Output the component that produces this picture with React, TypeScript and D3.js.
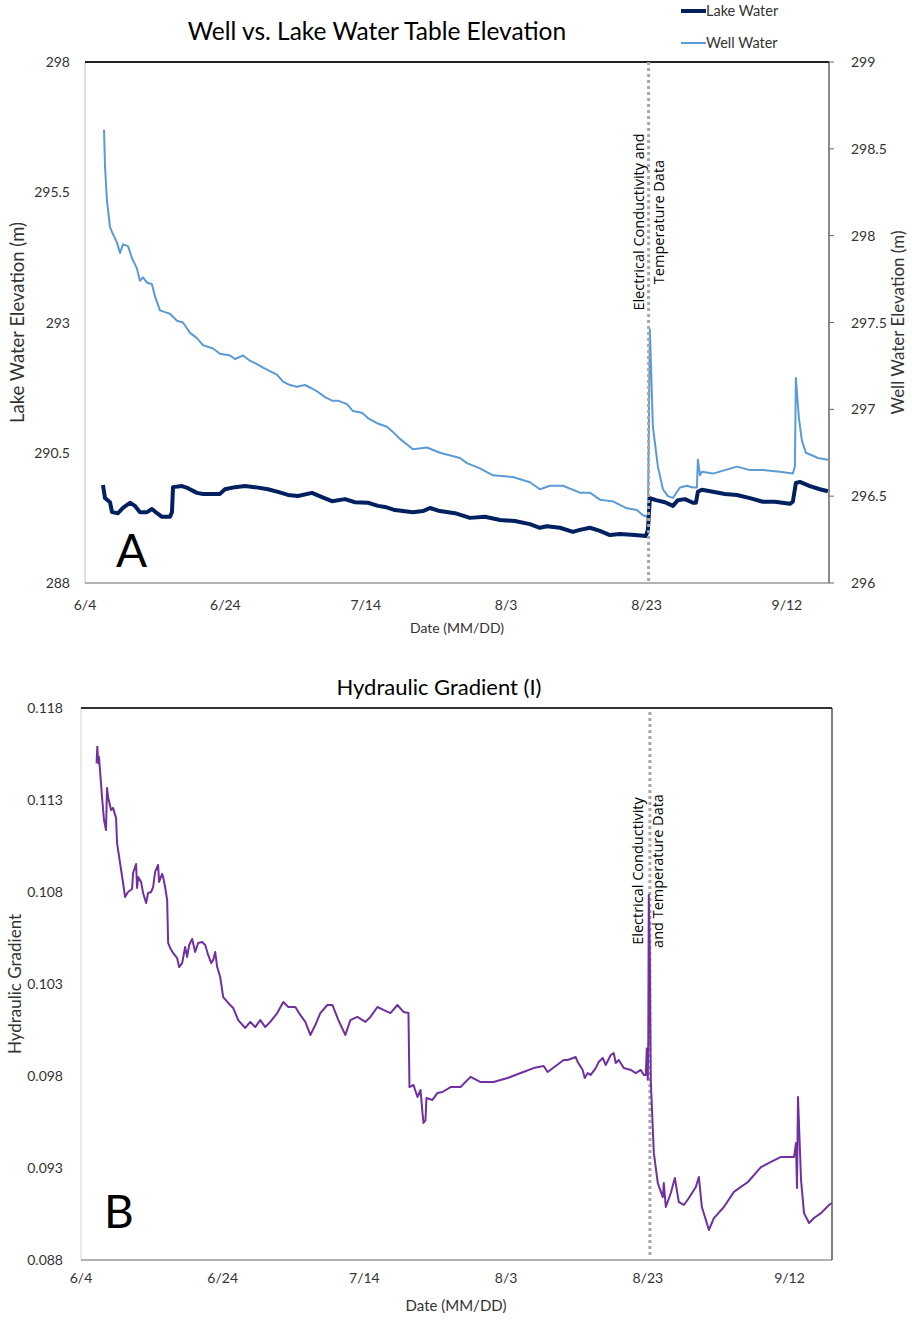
import React from 'react';
import * as d3 from 'd3';

// ---------- data ----------
const BASE = new Date(2019, 5, 4); // 6/4
const END_DAY = 106;
const xTickDays = [0, 20, 40, 60, 80, 100];
const xTickLabels = ['6/4', '6/24', '7/14', '8/3', '8/23', '9/12'];
const lakeTicks = [288, 290.5, 293, 295.5, 298];
const wellTicks = [296, 296.5, 297, 297.5, 298, 298.5, 299];
const gradTicks = [0.088, 0.093, 0.098, 0.103, 0.108, 0.113, 0.118];
const markerDay = 80.3;

// [day since 6/4, elevation m]
const lakeWater: [number, number][] = [
  [2.56, 289.88], [2.85, 289.63], [3.56, 289.55], [3.85, 289.36], [4.7, 289.34], [5.41, 289.44],
  [6.41, 289.54], [7.12, 289.48], [7.83, 289.36], [8.83, 289.36], [9.54, 289.42], [10.26, 289.34],
  [10.97, 289.27], [12.11, 289.27], [12.39, 289.36], [12.54, 289.84], [13.82, 289.86], [14.67, 289.82],
  [15.95, 289.73], [16.81, 289.71], [18.09, 289.71], [19.23, 289.71], [19.94, 289.8], [21.37, 289.84],
  [22.79, 289.86], [24.22, 289.84], [26.07, 289.8], [27.49, 289.75], [28.92, 289.69], [30.34, 289.67],
  [32.34, 289.73], [33.76, 289.65], [35.19, 289.57], [37.04, 289.61], [38.46, 289.55], [40.31, 289.54],
  [41.74, 289.48], [42.74, 289.46], [44.16, 289.4], [46.72, 289.36], [48.15, 289.38], [49.15, 289.44],
  [50.57, 289.38], [52.71, 289.34], [54.84, 289.25], [56.98, 289.27], [59.12, 289.21], [61.25, 289.19],
  [63.39, 289.13], [64.81, 289.06], [65.81, 289.09], [67.66, 289.06], [69.52, 288.98], [70.51, 289.02],
  [71.94, 289.06], [73.36, 289.0], [74.79, 288.92], [76.21, 288.94], [78.35, 288.92], [79.91, 288.9],
  [80.2, 289.02], [80.48, 289.63], [81.34, 289.59], [82.62, 289.55], [83.76, 289.48], [84.47, 289.59],
  [85.47, 289.61], [86.61, 289.54], [87.04, 289.54], [87.32, 289.75], [87.89, 289.79], [89.46, 289.75],
  [91.17, 289.71], [92.88, 289.69], [94.73, 289.63], [96.58, 289.56], [98.29, 289.56], [100.43, 289.52],
  [100.85, 289.56], [101.28, 289.92], [101.85, 289.94], [103.28, 289.86], [104.7, 289.8], [105.84, 289.76],
];

const wellWater: [number, number][] = [
  [2.71, 298.61], [2.85, 298.4], [3.13, 298.2], [3.56, 298.05], [3.85, 298.02], [4.56, 297.96],
  [4.99, 297.9], [5.41, 297.95], [6.13, 297.94], [6.7, 297.87], [7.41, 297.81], [7.83, 297.74],
  [8.26, 297.76], [8.83, 297.73], [9.54, 297.72], [9.97, 297.65], [10.68, 297.57], [11.4, 297.56],
  [12.11, 297.55], [13.11, 297.51], [13.96, 297.5], [14.96, 297.44], [15.95, 297.41], [16.81, 297.37],
  [18.23, 297.35], [19.23, 297.32], [20.66, 297.31], [21.37, 297.29], [22.51, 297.31], [23.5, 297.28],
  [24.5, 297.26], [25.36, 297.24], [26.35, 297.22], [27.35, 297.2], [28.21, 297.16], [29.2, 297.14],
  [30.2, 297.13], [31.34, 297.14], [32.34, 297.12], [33.19, 297.1], [34.19, 297.07], [35.19, 297.05],
  [36.04, 297.05], [37.32, 297.03], [38.18, 296.99], [39.46, 296.98], [40.31, 296.95], [41.6, 296.92],
  [43.02, 296.9], [43.87, 296.87], [44.87, 296.83], [46.72, 296.77], [48.72, 296.78], [50.57, 296.75],
  [53.42, 296.72], [54.42, 296.69], [56.27, 296.66], [58.12, 296.62], [60.97, 296.61], [63.39, 296.58],
  [64.81, 296.54], [66.24, 296.56], [68.09, 296.56], [70.51, 296.52], [71.94, 296.52], [73.36, 296.48],
  [75.21, 296.47], [77.21, 296.43], [78.63, 296.42], [79.49, 296.39], [80.2, 296.38], [80.48, 297.46],
  [80.91, 296.9], [81.62, 296.67], [82.34, 296.54], [83.05, 296.5], [83.76, 296.49], [84.76, 296.55],
  [85.75, 296.56], [86.61, 296.55], [87.18, 296.55], [87.32, 296.71], [87.61, 296.62], [87.89, 296.64],
  [89.46, 296.63], [91.17, 296.65], [92.88, 296.67], [94.73, 296.65], [96.58, 296.65], [99.0, 296.64],
  [100.85, 296.63], [101.14, 296.67], [101.28, 297.18], [101.71, 296.95], [102.14, 296.82], [102.71, 296.75],
  [103.28, 296.74], [104.42, 296.72], [105.84, 296.71],
];

// [day since 6/4, hydraulic gradient]
const gradient: [number, number][] = [
  [2.2, 0.115], [2.3, 0.1159], [2.45, 0.115], [2.54, 0.11534], [2.97, 0.11316], [3.25, 0.11191],
  [3.53, 0.11137], [3.67, 0.11365], [3.82, 0.11316], [4.24, 0.11246], [4.52, 0.11257], [4.95, 0.11202],
  [5.09, 0.11066], [5.51, 0.10958], [5.94, 0.10849], [6.22, 0.10773], [6.64, 0.108], [7.21, 0.10816],
  [7.35, 0.10903], [7.77, 0.10952], [7.92, 0.10822], [8.06, 0.10882], [8.48, 0.10855], [8.76, 0.10795],
  [9.19, 0.1074], [9.47, 0.10795], [9.89, 0.108], [10.18, 0.10827], [10.46, 0.10909], [10.88, 0.10947],
  [11.02, 0.10855], [11.45, 0.10898], [11.59, 0.10882], [11.87, 0.10827], [12.16, 0.10757], [12.3, 0.10523],
  [12.58, 0.10496], [13.0, 0.10469], [13.57, 0.10441], [13.85, 0.10392], [14.28, 0.10414], [14.7, 0.10501],
  [14.98, 0.10447], [15.27, 0.10512], [15.69, 0.10545], [16.11, 0.10474], [16.54, 0.10523], [17.1, 0.10528],
  [17.53, 0.10512], [17.95, 0.10458], [18.37, 0.10414], [18.66, 0.10431], [18.94, 0.10474], [19.22, 0.10392],
  [19.65, 0.10338], [20.07, 0.10229], [20.78, 0.10197], [21.48, 0.1017], [22.19, 0.10104], [23.18, 0.10061],
  [23.89, 0.10094], [24.59, 0.10066], [25.3, 0.10104], [26.01, 0.10066], [26.71, 0.10094], [27.7, 0.10142],
  [28.55, 0.10202], [29.26, 0.10175], [30.25, 0.10175], [30.95, 0.10132], [31.66, 0.10094], [32.37, 0.10023],
  [33.07, 0.10077], [33.78, 0.10142], [34.77, 0.10186], [35.48, 0.10186], [36.33, 0.10104], [37.31, 0.10023],
  [38.02, 0.10104], [39.01, 0.10121], [40.14, 0.10094], [40.85, 0.10121], [41.84, 0.10175], [42.69, 0.10159],
  [43.67, 0.10142], [44.66, 0.10186], [45.51, 0.10148], [46.22, 0.10142], [46.36, 0.0974], [46.93, 0.09751],
  [47.49, 0.09686], [47.92, 0.09724], [48.2, 0.096], [48.34, 0.09545], [48.62, 0.0956], [48.76, 0.0968],
  [49.61, 0.0967], [50.32, 0.09708], [51.02, 0.09713], [52.16, 0.0974], [53.57, 0.0974], [54.98, 0.09795],
  [56.4, 0.09767], [58.23, 0.09767], [60.21, 0.09789], [62.05, 0.09816], [63.89, 0.09843], [65.3, 0.09854],
  [65.86, 0.09822], [68.13, 0.09887], [68.69, 0.09887], [69.82, 0.09903], [70.11, 0.09876], [70.81, 0.09833],
  [71.1, 0.09789], [71.52, 0.09816], [71.94, 0.09806], [72.65, 0.09843], [73.07, 0.09876], [73.64, 0.09898],
  [74.06, 0.0986], [74.77, 0.09914], [75.19, 0.09925], [75.48, 0.09871], [75.9, 0.09887], [76.61, 0.09843],
  [77.6, 0.09833], [78.3, 0.09816], [79.01, 0.09833], [79.43, 0.09806], [79.72, 0.09806], [79.86, 0.0995],
  [80.0, 0.0978], [80.07, 0.1], [80.14, 0.10784], [80.28, 0.105],
  [80.42, 0.09778], [80.85, 0.09382], [81.41, 0.09218], [82.12, 0.09142], [82.26, 0.09218], [82.54, 0.09088],
  [83.25, 0.09164], [83.82, 0.09246], [84.38, 0.09115], [85.09, 0.09099], [85.8, 0.09137], [86.78, 0.09197],
  [87.21, 0.09251], [87.63, 0.09088], [88.2, 0.09017], [88.62, 0.08963], [89.33, 0.09028], [90.74, 0.09088],
  [92.16, 0.0917], [94.13, 0.09224], [95.97, 0.09305], [97.39, 0.09333], [98.8, 0.0936], [100.64, 0.0936],
  [100.92, 0.09436], [101.06, 0.09191], [101.2, 0.09686], [101.63, 0.09235], [102.05, 0.09055], [102.76, 0.09001],
  [103.46, 0.09028], [104.45, 0.09055], [105.58, 0.09099], [106.0, 0.0911],
];

// ---------- helpers ----------
const toDate = (d: number) => new Date(BASE.getTime() + d * 86400000);
const FONT = 'Lato, "Open Sans", sans-serif';
const NOTE_FONT = '"Open Sans", "Noto Sans", sans-serif';

const A = { left: 85, right: 829, top: 62, bottom: 583 };
const B = { left: 81, right: 832, top: 708, bottom: 1260 };

export default function App() {
  const xA = d3.scaleTime().domain([toDate(0), toDate(END_DAY)]).range([A.left, A.right]);
  const yLake = d3.scaleLinear().domain([288, 298]).range([A.bottom, A.top]);
  const yWell = d3.scaleLinear().domain([296, 299]).range([A.bottom, A.top]);
  const xB = d3.scaleTime().domain([toDate(0), toDate(END_DAY)]).range([B.left, B.right]);
  const yGrad = d3.scaleLinear().domain([0.088, 0.118]).range([B.bottom, B.top]);

  const lakeLine = d3.line<[number, number]>().x(d => xA(toDate(d[0]))).y(d => yLake(d[1]));
  const wellLine = d3.line<[number, number]>().x(d => xA(toDate(d[0]))).y(d => yWell(d[1]));
  const gradLine = d3.line<[number, number]>().x(d => xB(toDate(d[0]))).y(d => yGrad(d[1]));

  const mA = xA(toDate(markerDay));
  const mB = xB(toDate(markerDay));

  return (
    <svg width={912} height={1321} style={{ position: 'absolute', left: 0, top: 0, background: '#fff' }}
      fontFamily={FONT}>
      <rect x={0} y={0} width={912} height={1321} fill="#fff" />

      {/* ===== Chart A ===== */}
      <text x={377} y={40} textAnchor="middle" fontSize={24.5} fill="#000">Well vs. Lake Water Table Elevation</text>

      {/* legend */}
      <line x1={681} x2={706} y1={11} y2={11} stroke="#002060" strokeWidth={4} />
      <text x={706} y={16} fontSize={14.5} fill="#333">Lake Water</text>
      <line x1={681} x2={706} y1={43} y2={43} stroke="#5B9BD5" strokeWidth={2} />
      <text x={706} y={48} fontSize={14.5} fill="#333">Well Water</text>

      {/* frame */}
      <line x1={A.left} x2={A.left} y1={A.top} y2={A.bottom} stroke="#bfbfbf" strokeWidth={1} />
      <line x1={A.left} x2={A.right} y1={A.bottom} y2={A.bottom} stroke="#999" strokeWidth={1.5} />
      <line x1={A.right} x2={A.right} y1={A.top} y2={A.bottom} stroke="#666" strokeWidth={1.5} />
      <line x1={A.left} x2={A.right} y1={A.top} y2={A.top} stroke="#222" strokeWidth={2} />

      {lakeTicks.map(t => (
        <text key={'lt' + t} x={70} y={yLake(t) + 5} textAnchor="end" fontSize={14} fill="#333">{String(t)}</text>
      ))}
      {wellTicks.map(t => (
        <g key={'wt' + t}>
          <line x1={A.right} x2={A.right + 5} y1={yWell(t)} y2={yWell(t)} stroke="#666" strokeWidth={1} />
          <text x={851} y={yWell(t) + 5} textAnchor="start" fontSize={14} fill="#333">{String(t)}</text>
        </g>
      ))}
      {xTickDays.map((d, i) => (
        <text key={'xa' + d} x={xA(toDate(d))} y={610} textAnchor="middle" fontSize={14} fill="#333">{xTickLabels[i]}</text>
      ))}
      <text x={457} y={633} textAnchor="middle" fontSize={14} fill="#333">Date (MM/DD)</text>
      <text transform={`translate(24,${(A.top + A.bottom) / 2}) rotate(-90)`} textAnchor="middle" fontSize={18.5} fill="#333">Lake Water Elevation (m)</text>
      <text transform={`translate(904,${(A.top + A.bottom) / 2}) rotate(-90)`} textAnchor="middle" fontSize={17} fill="#333">Well Water Elevation (m)</text>

      <path d={wellLine(wellWater) || ''} fill="none" stroke="#5B9BD5" strokeWidth={2} strokeLinejoin="round" />
      <path d={lakeLine(lakeWater) || ''} fill="none" stroke="#002060" strokeWidth={4} strokeLinejoin="round" />
      <line x1={mA} x2={mA} y1={A.top} y2={A.bottom} stroke="#a6a6a6" strokeWidth={3} strokeDasharray="3 3" />
      <g fontFamily={NOTE_FONT} fontSize={14.5} fill="#000">
        <text transform={`translate(${mA - 5},222) rotate(-90)`} textAnchor="middle">Electrical Conductivity and</text>
        <text transform={`translate(${mA + 15},222) rotate(-90)`} textAnchor="middle">Temperature Data</text>
      </g>
      <text x={116} y={567} fontSize={46} fill="#000">A</text>

      {/* ===== Chart B ===== */}
      <text x={439} y={695} textAnchor="middle" fontSize={22} fill="#000">Hydraulic Gradient (I)</text>
      <line x1={B.left} x2={B.left} y1={B.top} y2={B.bottom} stroke="#d0d0d0" strokeWidth={1} />
      <line x1={B.left} x2={B.right} y1={B.bottom} y2={B.bottom} stroke="#999" strokeWidth={1.5} />
      <line x1={B.right} x2={B.right} y1={B.top} y2={B.bottom} stroke="#555" strokeWidth={1.5} />
      <line x1={B.left} x2={B.right} y1={B.top} y2={B.top} stroke="#333" strokeWidth={2} />
      {gradTicks.map(t => (
        <text key={'gt' + t} x={63} y={yGrad(t) + 5} textAnchor="end" fontSize={14} fill="#333">{t.toFixed(3)}</text>
      ))}
      {xTickDays.map((d, i) => (
        <text key={'xb' + d} x={xB(toDate(d))} y={1283} textAnchor="middle" fontSize={14} fill="#333">{xTickLabels[i]}</text>
      ))}
      <text x={456} y={1311} textAnchor="middle" fontSize={15} fill="#333">Date (MM/DD)</text>
      <text transform={`translate(21,${(B.top + B.bottom) / 2}) rotate(-90)`} textAnchor="middle" fontSize={17} fill="#333">Hydraulic Gradient</text>

      <line x1={mB} x2={mB} y1={B.top + 4} y2={B.bottom - 4} stroke="#a6a6a6" strokeWidth={3} strokeDasharray="3 3" />
      <path d={gradLine(gradient) || ''} fill="none" stroke="#7030A0" strokeWidth={2} strokeLinejoin="round" />
      <g fontFamily={NOTE_FONT} fontSize={14.5} fill="#000">
        <text transform={`translate(${mB - 7},871) rotate(-90)`} textAnchor="middle">Electrical Conductivity</text>
        <text transform={`translate(${mB + 13},871) rotate(-90)`} textAnchor="middle">and Temperature Data</text>
      </g>
      <text x={104} y={1228} fontSize={46} fill="#000">B</text>
    </svg>
  );
}
